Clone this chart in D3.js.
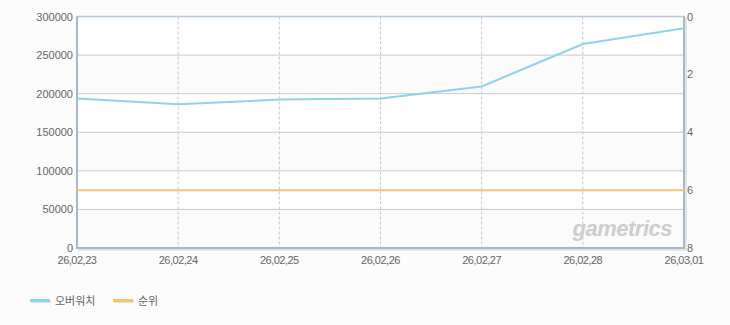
<!DOCTYPE html>
<html><head><meta charset="utf-8">
<script src="https://cdn.jsdelivr.net/npm/d3@7"></script>
<style>
html,body{margin:0;padding:0;background:#fcfcfc;}
text{font-family:"Liberation Sans","Noto Sans CJK KR",sans-serif;}
</style></head>
<body>
<svg id="c" width="730" height="325"></svg>
<script>
const dates = ["26,02,23","26,02,24","26,02,25","26,02,26","26,02,27","26,02,28","26,03,01"];
const overwatch = [193600, 186200, 192400, 193700, 209300, 264400, 284700];
const rank = [6, 6, 6, 6, 6, 6, 6];
const leftTicks = [0, 50000, 100000, 150000, 200000, 250000, 300000];
const rightTicks = [0, 2, 4, 6, 8];
const seriesNames = ["오버워치", "순위"];
const colors = ["#8fd1f2", "#f9c46f"];

const svg = d3.select("#c");
const L = 77, R = 684, T = 16.5, B = 248;
const x = d3.scalePoint().domain(dates).range([L, R]);
const y = d3.scaleLinear().domain([0, 300000]).range([B, T]);
const y2 = d3.scaleLinear().domain([0, 8]).range([T, B]);

svg.append("rect").attr("width",730).attr("height",325).attr("fill","#fcfcfc");
for (let i = 0; i < leftTicks.length - 1; i++) {
  svg.append("rect").attr("x", L).attr("width", R - L)
    .attr("y", y(leftTicks[i+1])).attr("height", y(leftTicks[i]) - y(leftTicks[i+1]))
    .attr("fill", (leftTicks.length - 2 - i) % 2 === 0 ? "#ffffff" : "#fbfbfb");
}
svg.append("g").selectAll("line").data(leftTicks.slice(1,-1)).join("line")
  .attr("x1", L).attr("x2", R).attr("y1", d => y(d)).attr("y2", d => y(d))
  .attr("stroke", "#c8c8c8").attr("stroke-width", 1);
svg.append("g").selectAll("line").data(dates.slice(1,-1)).join("line")
  .attr("x1", d => x(d)).attr("x2", d => x(d)).attr("y1", T).attr("y2", B)
  .attr("stroke", "#c8c8c8").attr("stroke-dasharray", "3,2");

svg.append("path").attr("d", `M${L+1},${B+2}H${R+2}V${T+1}`).attr("fill","none")
  .attr("stroke","#e4e4e4").attr("stroke-width",2);
svg.append("rect").attr("x", L).attr("y", T).attr("width", R - L).attr("height", B - T)
  .attr("fill","none").attr("stroke","#b7c8da").attr("stroke-width",1.5);
svg.append("path").attr("d", `M${L},${T}V${B}H${R}V${T}`).attr("fill","none")
  .attr("stroke","#a6b8cc").attr("stroke-width",2);

svg.append("text").attr("x", 672).attr("y", 236).attr("text-anchor","end")
  .attr("font-size", 22).attr("font-weight","bold").attr("font-style","italic")
  .attr("fill","#cdcdcd").attr("letter-spacing","-0.5").text("gametrics");

const line1 = d3.line().x((d,i) => x(dates[i])).y(d => y(d));
const line2 = d3.line().x((d,i) => x(dates[i])).y(d => y2(d));
svg.append("path").datum(rank).attr("d", line2).attr("fill","none")
  .attr("stroke", colors[1]).attr("stroke-width", 2);
svg.append("path").datum(overwatch).attr("d", line1).attr("fill","none")
  .attr("stroke", colors[0]).attr("stroke-width", 2);

const lab = svg.append("g").attr("font-size", 11).attr("fill", "#666");
lab.selectAll(".yl").data(leftTicks).join("text")
  .attr("x", 73).attr("y", d => y(d) + 4).attr("text-anchor","end").text(d => d);
lab.selectAll(".yr").data(rightTicks).join("text")
  .attr("x", 687).attr("y", d => y2(d) + 4).attr("text-anchor","start").text(d => d);
lab.selectAll(".xl").data(dates).join("text")
  .attr("x", d => x(d)).attr("y", 264).attr("text-anchor","middle")
  .attr("letter-spacing","-0.5").text(d => d);

const lg = svg.append("g");
const lx = [30, 113];
seriesNames.forEach((n, i) => {
  lg.append("line").attr("x1", lx[i]+1).attr("x2", lx[i]+21).attr("y1", 301.5).attr("y2", 301.5)
    .attr("stroke","#e0e0e0").attr("stroke-width",3);
  lg.append("line").attr("x1", lx[i]).attr("x2", lx[i]+20).attr("y1", 300.5).attr("y2", 300.5)
    .attr("stroke", colors[i]).attr("stroke-width",3);
  lg.append("text").attr("x", lx[i]+25).attr("y", 304.5).attr("font-size", 11).attr("fill","#666")
    .style("font-family","'Noto Sans CJK KR',sans-serif").text(n);
});
</script>
</body></html>
